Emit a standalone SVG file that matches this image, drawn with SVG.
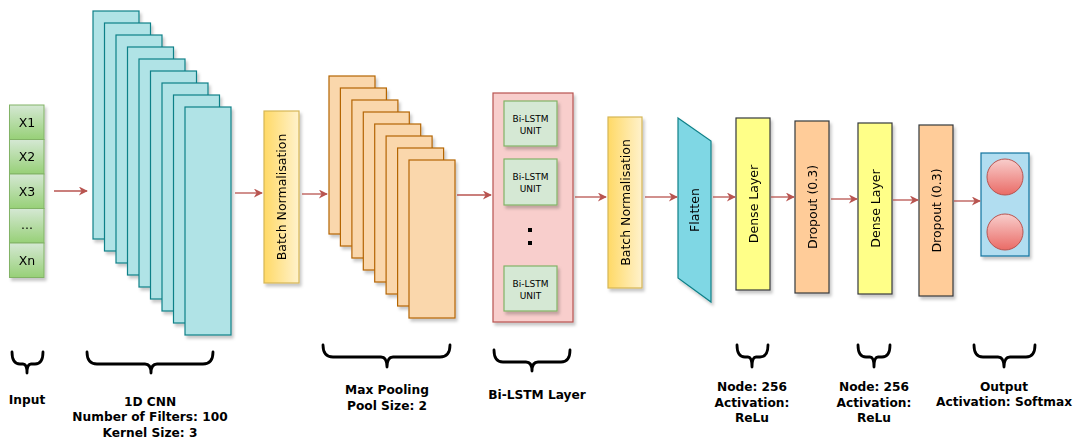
<svg xmlns="http://www.w3.org/2000/svg" width="1075" height="441" viewBox="0 0 1075 441">
<defs>
<filter id="sh" x="-20%" y="-20%" width="140%" height="140%"><feDropShadow dx="2" dy="3" stdDeviation="1.5" flood-color="#000" flood-opacity="0.22"/></filter>
<linearGradient id="gGreen" x1="0" y1="0" x2="0" y2="1"><stop offset="0" stop-color="#d5e8d4"/><stop offset="1" stop-color="#97d077"/></linearGradient>
<linearGradient id="gYellow" x1="0" y1="0" x2="1" y2="0"><stop offset="0" stop-color="#ffd966"/><stop offset="1" stop-color="#fff2cc"/></linearGradient>
<linearGradient id="gRed" x1="0" y1="0" x2="0" y2="1"><stop offset="0" stop-color="#f8cecc"/><stop offset="1" stop-color="#ea6b66"/></linearGradient>
<marker id="arr" viewBox="0 0 10 10" refX="9" refY="5" markerWidth="10" markerHeight="9" markerUnits="userSpaceOnUse" orient="auto"><path d="M0,0 L10,5 L0,10 L3,5 Z" fill="#b85450"/></marker>
</defs>
<style>
text{font-family:"DejaVu Sans","Liberation Sans",sans-serif;fill:#000}
.lbl{font-size:12.5px}
.small{font-size:9px}
.cap{font-size:12.2px;font-weight:bold;text-anchor:middle}
.cell{fill:url(#gGreen);stroke:#82b366;stroke-width:1}
.cnn{fill:#b0e3e6;stroke:#0e8088;stroke-width:1.2}
.pool{fill:#fad7ac;stroke:#b46504;stroke-width:1.2}
.bn{fill:url(#gYellow);stroke:#d6b656;stroke-width:1.2}
.dense{fill:#ffff88;stroke:#36393d;stroke-width:1.2}
.drop{fill:#ffcc99;stroke:#36393d;stroke-width:1.2}
.unit{fill:#d5e8d4;stroke:#82b366;stroke-width:1.2}
.conn{stroke:#b85450;stroke-width:1.3;fill:none;marker-end:url(#arr)}
.brace{stroke:#000;stroke-width:2.8;fill:none;stroke-linecap:round;stroke-linejoin:round}
</style>
<rect width="1075" height="441" fill="#fff"/>

<g id="input" filter="url(#sh)">
<rect class="cell" x="9.5" y="105" width="34.5" height="34.5"/>
<rect class="cell" x="9.5" y="139.5" width="34.5" height="34.5"/>
<rect class="cell" x="9.5" y="174" width="34.5" height="34.5"/>
<rect class="cell" x="9.5" y="208.5" width="34.5" height="34.5"/>
<rect class="cell" x="9.5" y="243" width="34.5" height="34.5"/>
<g class="lbl" text-anchor="middle">
<text x="27" y="127">X1</text>
<text x="27" y="161">X2</text>
<text x="27" y="196">X3</text>
<text x="27" y="229">...</text>
<text x="27" y="265">Xn</text>
</g>
</g>

<g id="cnn" filter="url(#sh)">
<rect class="cnn" x="93" y="11" width="46" height="228"/>
<rect class="cnn" x="104.5" y="23" width="46" height="228"/>
<rect class="cnn" x="116" y="35" width="46" height="228"/>
<rect class="cnn" x="127.5" y="47" width="46" height="228"/>
<rect class="cnn" x="139" y="59" width="46" height="228"/>
<rect class="cnn" x="150.5" y="71" width="46" height="228"/>
<rect class="cnn" x="162" y="83" width="46" height="228"/>
<rect class="cnn" x="173.5" y="95" width="46" height="228"/>
<rect class="cnn" x="185" y="107" width="46" height="228"/>
</g>

<g id="bn1" filter="url(#sh)">
<rect class="bn" x="264" y="111" width="35" height="172"/>
<text class="lbl" transform="translate(286,197) rotate(-90)" text-anchor="middle">Batch Normalisation</text>
</g>

<g id="pool" filter="url(#sh)">
<rect class="pool" x="329" y="76" width="46" height="158"/>
<rect class="pool" x="340.4" y="88" width="46" height="158"/>
<rect class="pool" x="351.9" y="100" width="46" height="158"/>
<rect class="pool" x="363.3" y="112" width="46" height="158"/>
<rect class="pool" x="374.7" y="124" width="46" height="158"/>
<rect class="pool" x="386.1" y="136" width="46" height="158"/>
<rect class="pool" x="397.6" y="148" width="46" height="158"/>
<rect class="pool" x="409" y="160" width="46" height="158"/>
</g>

<g id="bilstm">
<rect x="493" y="93" width="80" height="229" fill="#f8cecc" stroke="#b85450" stroke-width="1.2" filter="url(#sh)"/>
<g filter="url(#sh)">
<rect class="unit" x="504" y="101" width="53" height="45"/>
<rect class="unit" x="504" y="159" width="53" height="46"/>
<rect class="unit" x="504" y="266" width="53" height="45"/>
</g>
<g class="small" text-anchor="middle">
<text x="530.5" y="122">Bi-LSTM</text>
<text x="530.5" y="134">UNIT</text>
<text x="530.5" y="180">Bi-LSTM</text>
<text x="530.5" y="192">UNIT</text>
<text x="530.5" y="287">Bi-LSTM</text>
<text x="530.5" y="299">UNIT</text>
</g>
<rect x="528" y="228" width="4" height="4" fill="#000"/>
<rect x="528" y="241" width="4" height="4" fill="#000"/>
</g>

<g id="bn2" filter="url(#sh)">
<rect class="bn" x="608" y="117" width="34" height="171"/>
<text class="lbl" transform="translate(629.5,202.5) rotate(-90)" text-anchor="middle">Batch Normalisation</text>
</g>

<g id="flatten" filter="url(#sh)">
<polygon points="678,118 711,141 711,302 678,278" fill="#7fd7e4" stroke="#0e8088" stroke-width="1.2"/>
<text class="lbl" transform="translate(698.5,210) rotate(-90)" text-anchor="middle">Flatten</text>
</g>

<g id="dense1" filter="url(#sh)">
<rect class="dense" x="736" y="118" width="34" height="172"/>
<text class="lbl" transform="translate(757.5,204) rotate(-90)" text-anchor="middle">Dense Layer</text>
</g>

<g id="dropout1" filter="url(#sh)">
<rect class="drop" x="795" y="121" width="34" height="172"/>
<text class="lbl" transform="translate(816.5,207) rotate(-90)" text-anchor="middle">Dropout (0.3)</text>
</g>

<g id="dense2" filter="url(#sh)">
<rect class="dense" x="858" y="123" width="34" height="171"/>
<text class="lbl" transform="translate(879.5,208.5) rotate(-90)" text-anchor="middle">Dense Layer</text>
</g>

<g id="dropout2" filter="url(#sh)">
<rect class="drop" x="919" y="125" width="34" height="171"/>
<text class="lbl" transform="translate(940.5,210.5) rotate(-90)" text-anchor="middle">Dropout (0.3)</text>
</g>

<g id="output" filter="url(#sh)">
<rect x="981" y="153" width="48" height="103" fill="#b1ddf0" stroke="#10739e" stroke-width="1.2"/>
<circle cx="1005" cy="177" r="18" fill="url(#gRed)" stroke="#b85450" stroke-width="1"/>
<circle cx="1005" cy="232" r="18" fill="url(#gRed)" stroke="#b85450" stroke-width="1"/>
</g>

<g id="connectors">
<line class="conn" x1="54" y1="191" x2="87" y2="191"/>
<line class="conn" x1="235" y1="193" x2="262" y2="193"/>
<line class="conn" x1="302" y1="194" x2="327" y2="194"/>
<line class="conn" x1="457" y1="195" x2="491" y2="195"/>
<line class="conn" x1="575" y1="197" x2="606" y2="197"/>
<line class="conn" x1="645" y1="197" x2="677" y2="197"/>
<line class="conn" x1="713" y1="197" x2="735" y2="197"/>
<line class="conn" x1="771" y1="197" x2="794" y2="197"/>
<line class="conn" x1="831" y1="199" x2="857" y2="199"/>
<line class="conn" x1="893" y1="200" x2="918" y2="200"/>
<line class="conn" x1="954" y1="201" x2="980" y2="201"/>
</g>

<g id="braces">
<path class="brace" d="M12,352 Q12,364 20,364 H23 Q27,364 27,373 M43,352 Q43,364 35,364 H31 Q27,364 27,373"/>
<path class="brace" d="M87,352 Q87,364 97,364 H145 Q151,364 151,373 M213,352 Q213,364 203,364 H157 Q151,364 151,373"/>
<path class="brace" d="M323,345 Q323,357 333,357 H381 Q387,357 387,367 M450,345 Q450,357 440,357 H393 Q387,357 387,367"/>
<path class="brace" d="M494,350 Q494,362 503,362 H526 Q532,362 532,371 M570,350 Q570,362 561,362 H538 Q532,362 532,371"/>
<path class="brace" d="M737,345 Q737,357 745,357 H748 Q752,357 752,367 M768,345 Q768,357 760,357 H756 Q752,357 752,367"/>
<path class="brace" d="M858,345 Q858,357 866,357 H870 Q874,357 874,367 M890,345 Q890,357 882,357 H878 Q874,357 874,367"/>
<path class="brace" d="M974,345 Q974,357 983,357 H998 Q1004,357 1004,367 M1035,345 Q1035,357 1026,357 H1010 Q1004,357 1004,367"/>
</g>

<g id="labels">
<text class="cap" x="27" y="404">Input</text>
<text class="cap" x="150" y="406">1D CNN</text>
<text class="cap" x="150" y="421">Number of Filters: 100</text>
<text class="cap" x="150" y="437">Kernel Size: 3</text>
<text class="cap" x="387" y="394">Max Pooling</text>
<text class="cap" x="387" y="410">Pool Size: 2</text>
<text class="cap" x="537" y="399">Bi-LSTM Layer</text>
<text class="cap" x="752" y="391">Node: 256</text>
<text class="cap" x="752" y="407">Activation:</text>
<text class="cap" x="752" y="422">ReLu</text>
<text class="cap" x="874" y="391">Node: 256</text>
<text class="cap" x="874" y="407">Activation:</text>
<text class="cap" x="874" y="422">ReLu</text>
<text class="cap" x="1004" y="391">Output</text>
<text class="cap" x="1004" y="406">Activation: Softmax</text>
</g>
</svg>
